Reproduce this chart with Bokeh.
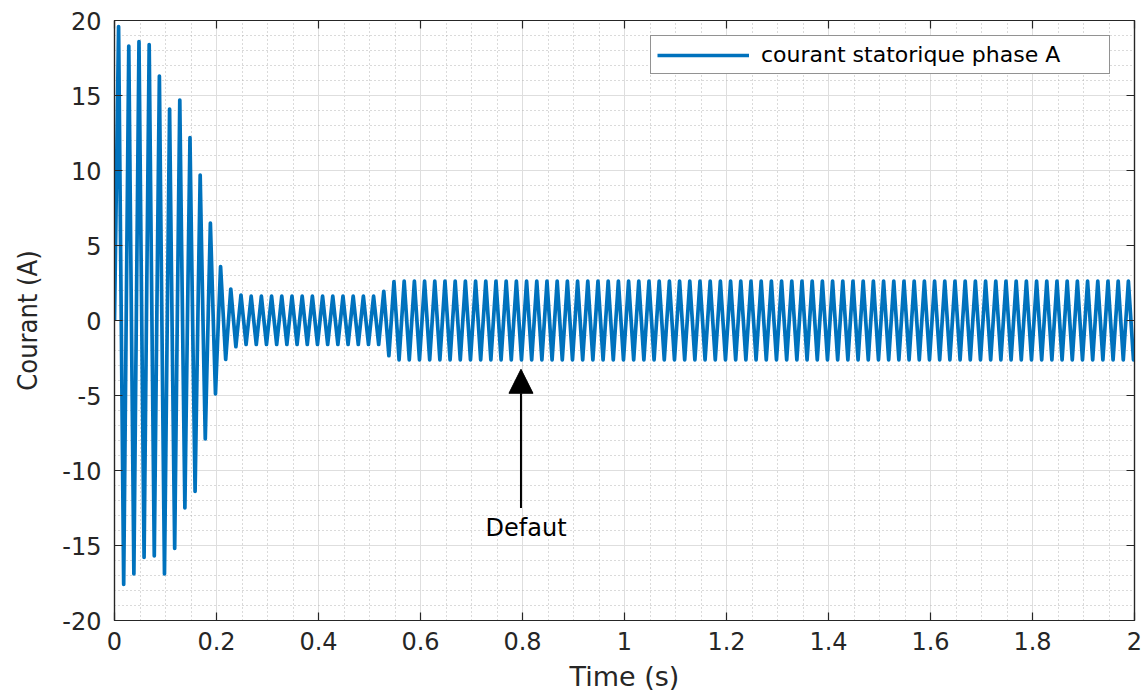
import numpy as np
from bokeh.plotting import figure
from bokeh.models import (LinearAxis, Range1d, SingleIntervalTicker, CustomJSTickFormatter,
                          Arrow, NormalHead, Label, Legend, LegendItem, ColumnDataSource)
from bokeh.embed import file_html
from bokeh.resources import INLINE

# ---------------- data ----------------
# 50 Hz stator current: one extremum every half period
first_extremum_t = 0.008      # s, time of the first positive peak
half_period = 0.01            # s
t_end = 2.0                   # s
start_value = 0.0             # A at t = 0

# start-up transient extrema (alternating +/-), t = 0.008 ... 0.258 s
transient_extrema = [19.6, -17.6, 18.3, -16.9, 18.6, -15.8, 18.4, -15.7, 16.3, -16.9,
                     14.1, -15.2, 14.7, -12.5, 12.2, -11.4, 9.7, -7.9, 6.5, -4.9,
                     3.6, -2.6, 2.1, -1.75, 1.7, -1.6]
# steady state before the fault, t = 0.268 ... 0.518 s
pre_fault_peak = [1.62, -1.6]
pre_fault_count = 26
# fault onset extrema, t = 0.528 ... 0.548 s
fault_transition = [1.95, -2.35, 2.6]
# steady state with the fault, t = 0.558 ... 1.998 s
post_fault_peak = [-2.62, 2.62]
post_fault_count = 145
end_value = -2.6              # A at t = 2 s

# annotation
arrow_x = 0.797
arrow_tail_y = -12.5
arrow_tip_y = -3.25
defaut_label = "Defaut"
defaut_x = 0.807
defaut_y = -13.8

legend_label = "courant statorique phase A"
x_label = "Time (s)"
y_label = "Courant (A)"

# ---------------- build the series ----------------
extrema = (transient_extrema
           + pre_fault_peak * (pre_fault_count // 2)
           + fault_transition
           + [post_fault_peak[i % 2] for i in range(post_fault_count)])
t_ext = first_extremum_t + half_period * np.arange(len(extrema))
t = np.concatenate([[0.0], t_ext, [t_end]])
i_a = np.concatenate([[start_value], extrema, [end_value]])
src = ColumnDataSource(dict(t=t, i=i_a))

# ---------------- figure ----------------
AX = "#262626"
TICK_FONT = "DejaVu Sans"

p = figure(width=1146, height=695, output_backend="svg", toolbar_location=None,
           x_range=Range1d(0, 2), y_range=Range1d(-20, 20),
           min_border_left=114, min_border_right=12, min_border_top=20, min_border_bottom=75,
           background_fill_color="white", border_fill_color="white")
p.outline_line_color = AX
p.outline_line_width = 1.2

fmt = CustomJSTickFormatter(code="return Number(tick.toFixed(2)).toString();")
xt = SingleIntervalTicker(interval=0.2, num_minor_ticks=4)
yt = SingleIntervalTicker(interval=5, num_minor_ticks=5)

p.xaxis.ticker = xt
p.yaxis.ticker = yt
for ax in (p.xaxis[0], p.yaxis[0]):
    ax.formatter = fmt
    ax.axis_line_color = AX
    ax.axis_line_width = 1.2
    ax.major_tick_in = 8
    ax.major_tick_out = 0
    ax.major_tick_line_color = AX
    ax.major_tick_line_width = 1.2
    ax.minor_tick_in = 0
    ax.minor_tick_out = 0
    ax.major_label_text_font = TICK_FONT
    ax.major_label_text_font_size = "24px"
    ax.major_label_text_color = AX

p.xaxis.axis_label = x_label
p.xaxis.axis_label_text_font = TICK_FONT
p.xaxis.axis_label_text_font_size = "27px"
p.xaxis.axis_label_text_font_style = "normal"
p.xaxis.axis_label_text_color = AX
p.xaxis.major_label_standoff = 11
p.xaxis.axis_label_standoff = 8

p.yaxis.axis_label = y_label
p.yaxis.axis_label_text_font = "'Liberation Sans Narrow', 'DejaVu Sans Condensed', sans-serif"
p.yaxis.axis_label_text_font_size = "27px"
p.yaxis.axis_label_text_font_style = "normal"
p.yaxis.axis_label_text_color = AX
p.yaxis.major_label_standoff = 13
p.yaxis.axis_label_standoff = 16

blank = CustomJSTickFormatter(code="return '';")
top_ax = LinearAxis(ticker=xt, formatter=blank)
right_ax = LinearAxis(ticker=yt, formatter=blank)
for ax in (top_ax, right_ax):
    ax.axis_line_color = AX
    ax.axis_line_width = 1.2
    ax.major_tick_in = 8
    ax.major_tick_out = 0
    ax.major_tick_line_color = AX
    ax.major_tick_line_width = 1.2
    ax.minor_tick_in = 0
    ax.minor_tick_out = 0
    ax.major_label_standoff = 0
    ax.major_label_text_font_size = "1px"
p.add_layout(top_ax, "above")
p.add_layout(right_ax, "right")

for g in (p.xgrid[0], p.ygrid[0]):
    g.grid_line_color = "#dedede"
    g.grid_line_width = 1
    g.minor_grid_line_color = "#b4b4b4"
    g.minor_grid_line_dash = "1 3"
    g.minor_grid_line_width = 1

r = p.line("t", "i", source=src, line_color="#0072BD", line_width=3.7, line_join="round")

legend = Legend(items=[LegendItem(label=legend_label, renderers=[r])],
                location=(536, 546), orientation="vertical")
legend.label_text_font = TICK_FONT
legend.label_text_font_size = "22px"
legend.label_text_color = "black"
legend.glyph_width = 92
legend.glyph_height = 22
legend.label_height = 22
legend.label_width = 342
legend.label_standoff = 12
legend.padding = 6
legend.margin = 0
legend.spacing = 0
legend.border_line_color = AX
legend.border_line_width = 1.2
legend.background_fill_color = "white"
legend.background_fill_alpha = 1
p.add_layout(legend, "center")

p.add_layout(Arrow(end=NormalHead(size=24, fill_color="black", line_color="black"),
                   x_start=arrow_x, y_start=arrow_tail_y, x_end=arrow_x, y_end=arrow_tip_y,
                   line_color="black", line_width=2))
p.add_layout(Label(x=defaut_x, y=defaut_y, text=defaut_label, text_align="center",
                   text_baseline="middle", text_font=TICK_FONT, text_font_size="24px",
                   text_color="black"))

open("out.html", "w").write(file_html(p, INLINE))
